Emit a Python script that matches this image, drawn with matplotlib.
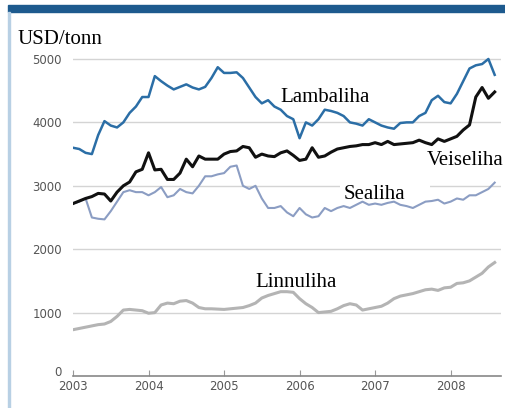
import numpy as np
import matplotlib.pyplot as plt
import matplotlib.transforms as mtransforms
from matplotlib.patches import Rectangle

# monthly prices, Jan 2003 .. Aug 2008 (USD/tonn)
start_year = 2003
lambaliha = [3600, 3580, 3520, 3500, 3800, 4020, 3950, 3920, 4000, 4150, 4250, 4400,
             4400, 4730, 4650, 4580, 4520, 4560, 4600, 4550, 4520, 4560, 4700, 4870,
             4780, 4780, 4790, 4700, 4550, 4400, 4300, 4350, 4250, 4200, 4100, 4050,
             3750, 4000, 3950, 4050, 4200, 4180, 4150, 4100, 4000, 3980, 3950, 4050,
             4000, 3950, 3920, 3900, 3990, 4000, 4000, 4100, 4150, 4350, 4420, 4320,
             4300, 4450, 4650, 4850, 4900, 4920, 5000, 4750]
veiseliha = [2720, 2760, 2800, 2830, 2880, 2870, 2760, 2900, 3000, 3060, 3220, 3260,
             3520, 3250, 3260, 3100, 3100, 3200, 3420, 3300, 3470, 3420, 3420, 3420,
             3500, 3540, 3550, 3620, 3600, 3450, 3500, 3470, 3460, 3520, 3550, 3480,
             3400, 3420, 3600, 3450, 3470, 3530, 3580, 3600, 3620, 3630, 3650, 3650,
             3680, 3650, 3700, 3650, 3660, 3670, 3680, 3720, 3680, 3650, 3740, 3700,
             3740, 3780, 3880, 3960, 4400, 4550, 4380, 4480]
sealiha = [2720, 2750, 2800, 2500, 2480, 2470, 2600, 2750, 2900, 2930, 2900, 2900,
           2850, 2900, 2980, 2820, 2850, 2950, 2900, 2880, 3000, 3150, 3150, 3180,
           3200, 3300, 3320, 3000, 2950, 3000, 2800, 2650, 2650, 2680, 2580, 2520,
           2650, 2550, 2500, 2520, 2650, 2600, 2650, 2680, 2650, 2700, 2750, 2700,
           2720, 2700, 2730, 2750, 2700, 2680, 2650, 2700, 2750, 2760, 2780, 2720,
           2750, 2800, 2780, 2850, 2850, 2900, 2950, 3050]
linnuliha = [730, 750, 770, 790, 810, 820, 860, 940, 1040, 1050, 1040, 1030,
             990, 1000, 1120, 1150, 1140, 1180, 1190, 1150, 1080, 1060, 1060, 1055,
             1050, 1060, 1070, 1080, 1110, 1150, 1230, 1270, 1300, 1330, 1330, 1320,
             1220, 1140, 1080, 1000, 1010, 1020, 1060, 1110, 1140, 1120, 1040, 1060,
             1080, 1100, 1150, 1220, 1260, 1280, 1300, 1330, 1360, 1370, 1350, 1390,
             1400, 1460, 1470, 1500, 1560, 1620, 1720, 1790]
years = [2003, 2004, 2005, 2006, 2007, 2008]
yticks = [0, 1000, 2000, 3000, 4000, 5000]

t = start_year + np.arange(len(lambaliha)) / 12.0

fig = plt.figure(figsize=(5.05, 4.08), dpi=100)
fig.patch.set_facecolor('white')

# frame decoration: dark top bar and light left border
fig.patches.append(Rectangle((8 / 505, 1 - 12 / 408), 1, 7 / 408, transform=fig.transFigure,
                             color='#1d5a8e', zorder=0))
fig.patches.append(Rectangle((8 / 505, 0), 2 / 505, 1 - 12 / 408, transform=fig.transFigure,
                             color='#b8d0e4', zorder=0))

ax = fig.add_axes([73 / 505, 32 / 408, 428 / 505, 329 / 408])
ax.set_xlim(2003, 2008.667)
ax.set_ylim(0, 5189)

for v in yticks[1:]:
    ax.axhline(v, color='#d4d4d4', lw=1, zorder=1)

ax.plot(t, linnuliha, color='#b4b4b4', lw=2.2, zorder=3)
ax.plot(t, sealiha, color='#8b9dc3', lw=1.5, zorder=3)
ax.plot(t, veiseliha, color='#111111', lw=2.2, zorder=4)
ax.plot(t, lambaliha, color='#2b6ea6', lw=1.8, zorder=5)

for s in ['top', 'right', 'left']:
    ax.spines[s].set_visible(False)
ax.spines['bottom'].set_color('#888888')
ax.spines['bottom'].set_linewidth(1.2)

ax.set_yticks(yticks)
ax.set_yticklabels([str(v) for v in yticks], fontsize=8.5, color='#555555')
ax.tick_params(axis='y', length=0, pad=8)
ax.set_xticks(years)
ax.set_xticklabels([str(y) for y in years], fontsize=8.5, color='#555555')
ax.tick_params(axis='x', direction='in', length=4, color='#999999', pad=3)

# lift the "0" label a little so it clears "2003"
zero_lbl = ax.get_yticklabels()[0]
zero_lbl.set_transform(zero_lbl.get_transform() +
                       mtransforms.ScaledTranslation(0, 5 / 100, fig.dpi_scale_trans))

serif = ['Liberation Serif', 'DejaVu Serif']
fig.text(18 / 505, 1 - 40 / 408, 'USD/tonn', family=serif, fontsize=15, va='center', ha='left')
ax.text(2005.74, 4400, 'Lambaliha', family=serif, fontsize=15, va='center', ha='left', zorder=6)
ax.text(2007.69, 3391, 'Veiseliha', family=serif, fontsize=15, va='center', ha='left', zorder=6,
        clip_on=False, bbox=dict(facecolor='white', edgecolor='none', pad=1))
# white label box behind "Sealiha" hides the 3000 gridline
ax.add_patch(Rectangle((2006.54, 2730), 1.19, 310, facecolor='white', edgecolor='none', zorder=2))
ax.text(2006.58, 2870, 'Sealiha', family=serif, fontsize=15, va='center', ha='left', zorder=6)
ax.text(2005.42, 1467, 'Linnuliha', family=serif, fontsize=15, va='center', ha='left', zorder=6)

fig.savefig('out.png', dpi=100)
